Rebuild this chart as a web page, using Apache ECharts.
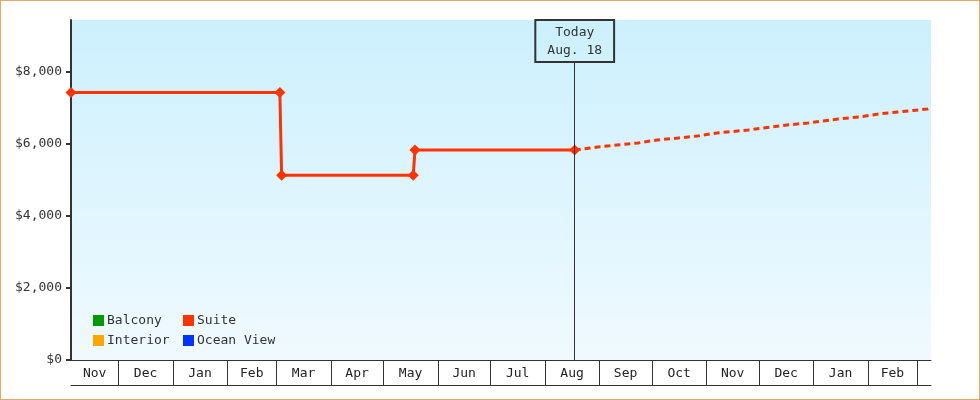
<!DOCTYPE html>
<html>
<head>
<meta charset="utf-8">
<script src="https://cdn.jsdelivr.net/npm/echarts@6/dist/echarts.min.js"></script>
<style>
html,body{margin:0;padding:0;background:#fff;}
#wrap{position:relative;width:980px;height:400px;}
#chart{position:absolute;left:0;top:0;width:980px;height:400px;}
#frame{position:absolute;left:0;top:0;width:980px;height:400px;box-sizing:border-box;border:1px solid #e8a862;pointer-events:none;}
</style>
</head>
<body>
<div id="wrap"><div id="chart"></div><div id="frame"></div></div>
<script>
// ---- data ----
var axisStart = '2016-11-04';
var axisEnd = '2018-03-09';
var monthStarts = ['2016-12-01','2017-01-01','2017-02-01','2017-03-01','2017-04-01','2017-05-01','2017-06-01','2017-07-01','2017-08-01','2017-09-01','2017-10-01','2017-11-01','2017-12-01','2018-01-01','2018-02-01','2018-03-01'];
var monthLabels = ['Nov','Dec','Jan','Feb','Mar','Apr','May','Jun','Jul','Aug','Sep','Oct','Nov','Dec','Jan','Feb'];
var yTicks = [0, 2000, 4000, 6000, 8000];
var yMax = 9444;

var suiteDates = ['2016-11-04','2017-03-03','2017-03-04','2017-05-18','2017-05-19','2017-08-18'];
var suiteValues = [7430, 7430, 5130, 5130, 5830, 5830];

var forecastDates = ['2017-08-18','2017-08-31','2017-09-11','2017-09-23','2017-10-04','2017-10-16','2017-10-27','2017-11-07','2017-11-25','2017-12-17','2017-12-29','2018-01-15','2018-01-27','2018-02-07','2018-02-18','2018-03-07','2018-03-09'];
var forecastValues = [5830, 5917, 5972, 6028, 6111, 6167, 6222, 6306, 6389, 6528, 6583, 6694, 6750, 6833, 6889, 6972, 7028];

var todayDate = '2017-08-18';
var todayLabel = 'Today\nAug. 18';
var todayLineTop = 8278;

var legendCol1 = ['Balcony', 'Interior'];
var legendCol2 = ['Suite', 'Ocean View'];
var seriesColors = {'Balcony': '#009900', 'Suite': '#ff3300', 'Interior': '#ffa500', 'Ocean View': '#0033ff'};

// ---- build ----
function ts(s){ var p = s.split('-'); return Date.UTC(+p[0], +p[1]-1, +p[2]); }
var minT = ts(axisStart), maxT = ts(axisEnd);
var tickVals = monthStarts.map(ts);
var bounds = [minT].concat(tickVals);
var labelVals = [];
for (var i = 0; i < monthLabels.length; i++) labelVals.push((bounds[i] + bounds[i+1]) / 2);
var labelMap = {};
labelVals.forEach(function(v, i){ labelMap[v] = monthLabels[i]; });

function zip(d, v){ return d.map(function(x, i){ return [ts(x), v[i]]; }); }

var font = 'DejaVu Sans Mono';
function legendOpt(names, left){
  return {
    data: names.map(function(n){ return {name: n, icon: 'rect'}; }),
    left: left, top: 314, orient: 'vertical',
    itemWidth: 11, itemHeight: 11, itemGap: 7, padding: 0,
    textStyle: {fontFamily: font, fontSize: 13, color: '#333', padding: [0, 0, 0, -2]}
  };
}
var chart = echarts.init(document.getElementById('chart'), null, {renderer: 'canvas'});
chart.setOption({
  animation: false,
  textStyle: {fontFamily: font},
  grid: {
    left: 71, right: 49, top: 20, bottom: 40,
    show: true, borderWidth: 0,
    backgroundColor: new echarts.graphic.LinearGradient(0, 0, 0, 1, [
      {offset: 0, color: '#ccf0fd'}, {offset: 1, color: '#f0faff'}
    ])
  },
  legend: [legendOpt(legendCol1, 93), legendOpt(legendCol2, 183)],
  xAxis: [{
    type: 'value', min: minT, max: maxT, position: 'bottom',
    axisLine: {show: true, onZero: false, lineStyle: {color: '#333', width: 1}},
    axisTick: {show: true, customValues: tickVals, length: 25, lineStyle: {color: '#333', width: 1}},
    axisLabel: {
      customValues: labelVals, margin: 7, color: '#222', fontFamily: font, fontSize: 13,
      formatter: function(v){ return labelMap[v] || ''; }
    },
    splitLine: {show: false}
  }, {
    type: 'value', min: minT, max: maxT, position: 'bottom', offset: 25,
    axisLine: {show: true, onZero: false, lineStyle: {color: '#333', width: 1}},
    axisTick: {show: false}, axisLabel: {show: false}, splitLine: {show: false}
  }],
  yAxis: {
    type: 'value', min: 0, max: yMax,
    axisLine: {show: true, lineStyle: {color: '#333', width: 2}},
    axisTick: {show: true, customValues: yTicks, length: 5, lineStyle: {color: '#333', width: 2}},
    axisLabel: {
      customValues: yTicks, margin: 9, color: '#333', fontFamily: font, fontSize: 13,
      formatter: function(v){ return '$' + v.toString().replace(/\B(?=(\d{3})+(?!\d))/g, ','); }
    },
    splitLine: {show: false}
  },
  series: [
    {name: 'Balcony', type: 'line', data: [], color: seriesColors['Balcony']},
    {
      name: 'Suite', type: 'line', color: seriesColors['Suite'],
      data: zip(suiteDates, suiteValues),
      symbol: 'diamond', symbolSize: 11, showSymbol: true,
      lineStyle: {width: 3, color: seriesColors['Suite']},
      itemStyle: {color: seriesColors['Suite']},
      z: 3,
      markLine: {
        silent: true, symbol: ['none', 'none'],
        lineStyle: {color: '#333', width: 1, type: 'solid'},
        label: {
          show: true, position: 'end', distance: 0,
          formatter: todayLabel,
          fontFamily: font, fontSize: 13, color: '#333', lineHeight: 18,
          borderColor: '#333', borderWidth: 1, padding: [4, 12, 2, 12],
          backgroundColor: 'transparent', align: 'center'
        },
        data: [[{coord: [ts(todayDate), 0]}, {coord: [ts(todayDate), todayLineTop]}]]
      }
    },
    {
      name: 'Suite', type: 'line', color: seriesColors['Suite'],
      data: zip(forecastDates, forecastValues),
      showSymbol: false, symbol: 'none',
      lineStyle: {width: 3, type: [6, 4], color: seriesColors['Suite']},
      z: 2
    },
    {name: 'Interior', type: 'line', data: [], color: seriesColors['Interior']},
    {name: 'Ocean View', type: 'line', data: [], color: seriesColors['Ocean View']}
  ]
});
</script>
</body>
</html>
